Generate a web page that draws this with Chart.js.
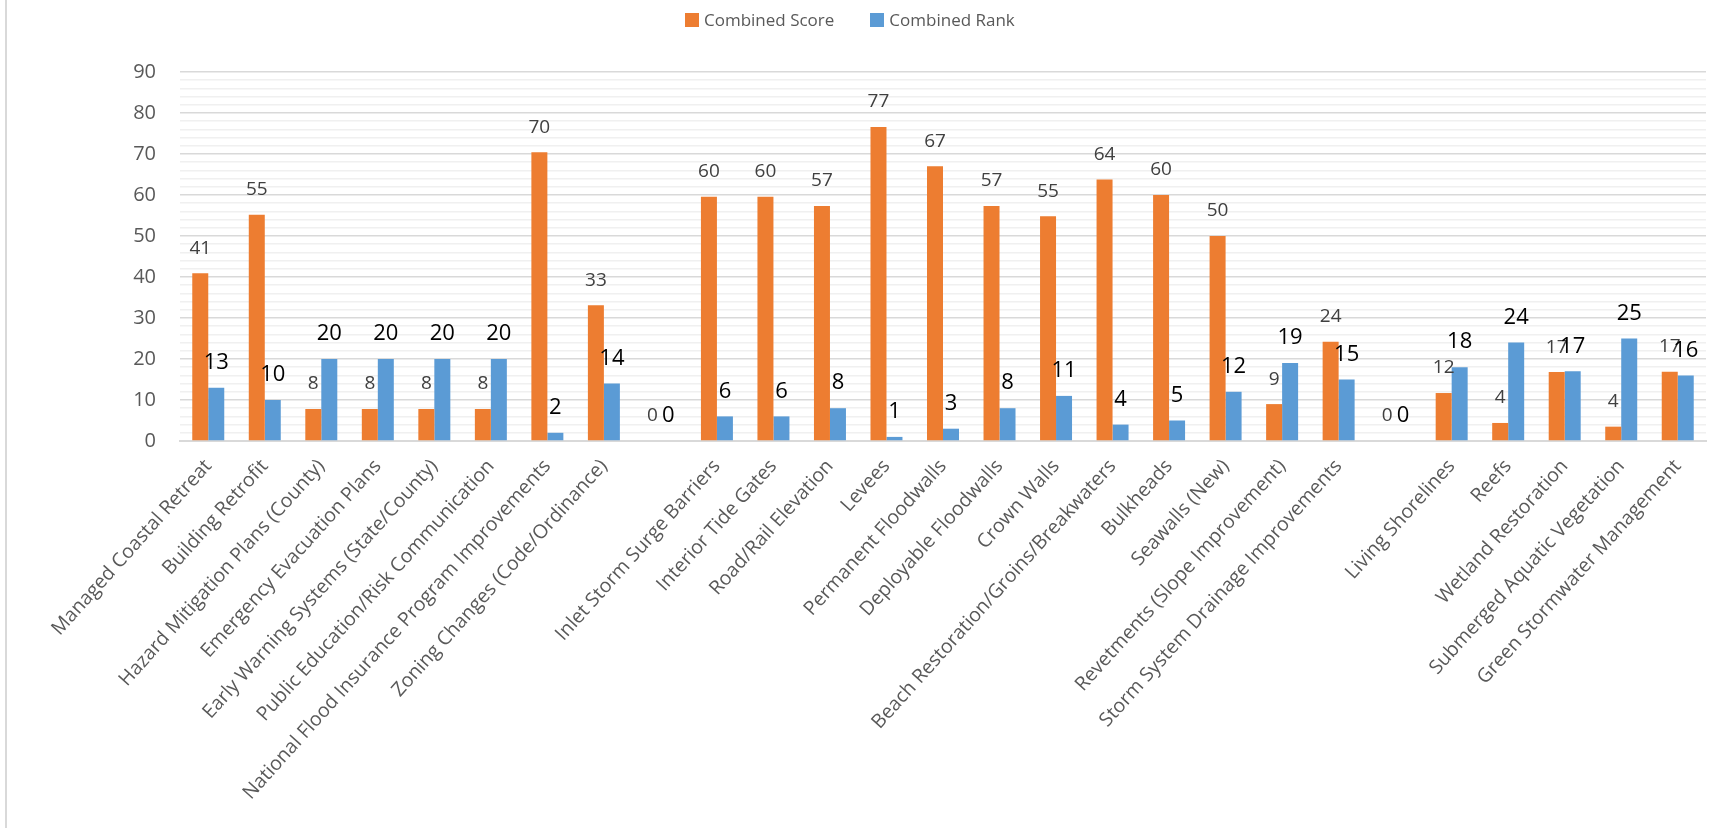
<!DOCTYPE html>
<html>
<head>
<meta charset="utf-8">
<script src="https://cdn.jsdelivr.net/npm/chart.js@4/dist/chart.umd.min.js"></script>
<style>
  body { margin: 0; background: #fff; overflow: hidden; }
  .wrap { position: relative; width: 1716px; height: 828px; }
  .frame { position: absolute; left: 5px; top: 0; width: 2px; height: 828px; background: #d9d9d9; }
  .legend { position: absolute; top: 8px; left: 685px; font: 17px 'Open Sans', sans-serif; color: #595959; white-space: nowrap; }
  .legend span.box { display: inline-block; width: 14px; height: 14px; margin-right: 5px; vertical-align: -1px; }
  .legend span.item { margin-right: 36px; }
</style>
</head>
<body>
<div class="wrap">
  <div class="frame"></div>
  <canvas id="scoreChart" width="1716" height="828"></canvas>
  <div class="legend">
    <span class="item"><span class="box" style="background:#ED7D31"></span>Combined Score</span><span class="item"><span class="box" style="background:#5B9BD5"></span>Combined Rank</span>
  </div>
</div>
<script>
// categories ('' = empty spacer slots between groups)
let categories = [
    'Managed Coastal Retreat', 'Building Retrofit', 'Hazard Mitigation Plans (County)',
    'Emergency Evacuation Plans', 'Early Warning Systems (State/County)',
    'Public Education/Risk Communication', 'National Flood Insurance Program Improvements',
    'Zoning Changes (Code/Ordinance)', '',
    'Inlet Storm Surge Barriers', 'Interior Tide Gates', 'Road/Rail Elevation', 'Levees',
    'Permanent Floodwalls', 'Deployable Floodwalls', 'Crown Walls',
    'Beach Restoration/Groins/Breakwaters', 'Bulkheads', 'Seawalls (New)',
    'Revetments (Slope Improvement)', 'Storm System Drainage Improvements', '',
    'Living Shorelines', 'Reefs', 'Wetland Restoration', 'Submerged Aquatic Vegetation',
    'Green Stormwater Management'
];
let combinedScore = [40.9, 55.2, 7.8, 7.8, 7.8, 7.8, 70.4, 33.1, 0,
    59.6, 59.6, 57.3, 76.6, 67.0, 57.3, 54.8, 63.8, 60.0, 50.0, 9.0, 24.2, 0,
    11.7, 4.4, 16.8, 3.5, 16.9];
let combinedRank = [13, 10, 20, 20, 20, 20, 2, 14, 0,
    6, 6, 8, 1, 3, 8, 11, 4, 5, 12, 19, 15, 0,
    18, 24, 17, 25, 16];
let yTicks = [0, 10, 20, 30, 40, 50, 60, 70, 80, 90];

// draws the value above every bar, like excel data labels
const barLabels = {
    id: 'barLabels',
    afterDatasetsDraw(chart) {
        let ctx = chart.ctx;
        chart.data.datasets.forEach((ds, i) => {
            let meta = chart.getDatasetMeta(i);
            ctx.save();
            ctx.font = ds.labelFont;
            ctx.fillStyle = ds.labelColor;
            ctx.textAlign = 'center';
            ctx.textBaseline = 'middle';
            meta.data.forEach((bar, j) => {
                ctx.fillText(Math.round(ds.data[j]), bar.x, bar.y - 25);
            });
            ctx.restore();
        });
    }
};

Chart.defaults.font.family = "'Open Sans', sans-serif";

let ctx = document.getElementById('scoreChart').getContext('2d');
let myChart = new Chart(ctx, {
    type: 'bar',
    data: {
        labels: categories,
        datasets: [{
            label: 'Combined Score',
            data: combinedScore,
            backgroundColor: '#ED7D31',
            labelColor: '#404040',
            labelFont: "19px 'Open Sans'"
        }, {
            label: 'Combined Rank',
            data: combinedRank,
            backgroundColor: '#5B9BD5',
            labelColor: '#000000',
            labelFont: "22px 'Open Sans'"
        }]
    },
    options: {
        responsive: false,
        animation: false,
        layout: { padding: { top: 72, left: 0, right: 10, bottom: 0 } },
        datasets: { bar: { categoryPercentage: 0.566, barPercentage: 1.0 } },
        plugins: {
            legend: { display: false },
            tooltip: { enabled: false }
        },
        scales: {
            x: {
                grid: { display: false },
                border: { color: '#d9d9d9', width: 2 },
                ticks: {
                    autoSkip: false,
                    minRotation: 48,
                    maxRotation: 48,
                    padding: 6,
                    color: '#595959',
                    font: { size: 19.5 }
                },
                afterFit(scale) { scale.height = 387; }
            },
            y: {
                min: 0,
                max: 90,
                border: { display: false },
                grid: {
                    drawTicks: false,
                    color: c => yTicks.includes(c.tick.value) ? '#d9d9d9' : '#f0f0f0',
                    lineWidth: 1.5
                },
                ticks: {
                    stepSize: 2,
                    autoSkip: false,
                    padding: 24,
                    color: '#595959',
                    font: { size: 20 },
                    callback: v => yTicks.includes(v) ? v : ''
                },
                afterFit(scale) { scale.width = 180; }
            }
        }
    },
    plugins: [barLabels]
});
</script>
</body>
</html>
